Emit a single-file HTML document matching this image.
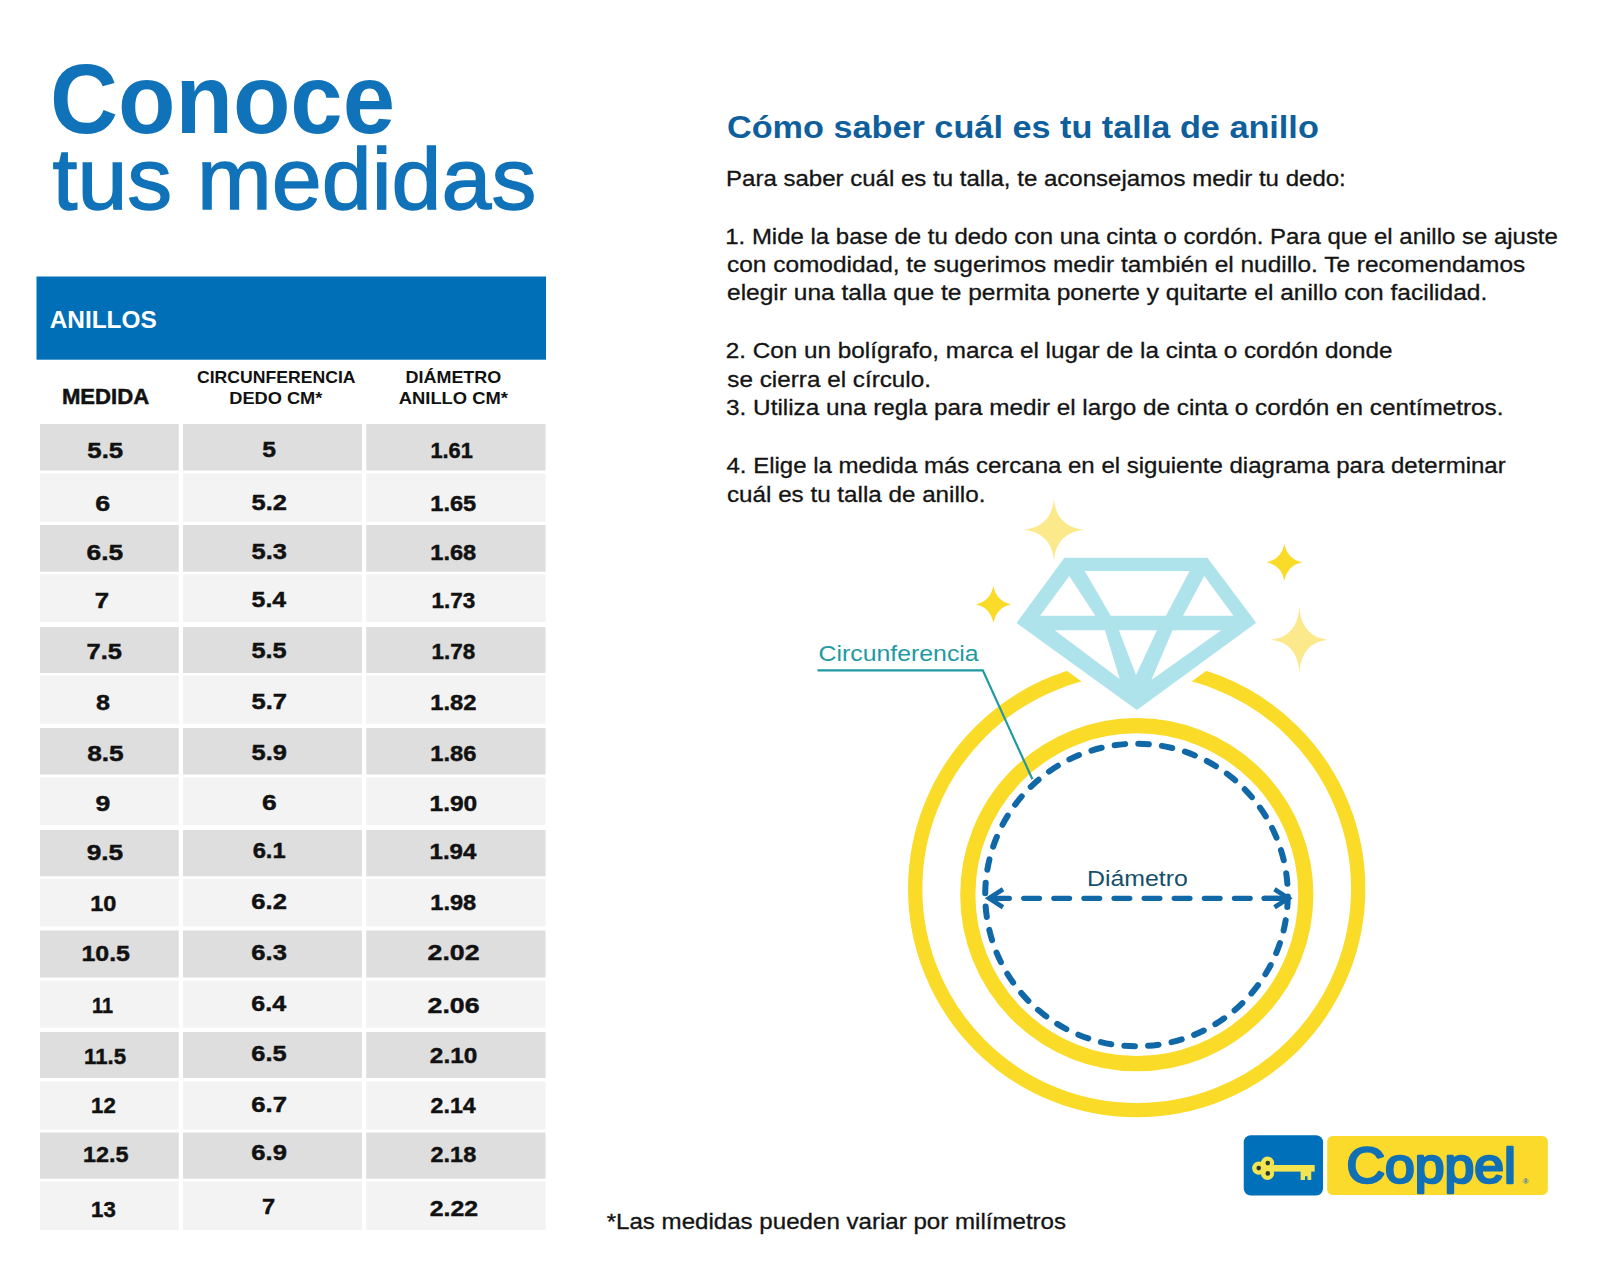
<!DOCTYPE html>
<html lang="es"><head><meta charset="utf-8"><title>Conoce tus medidas</title>
<style>
html,body{margin:0;padding:0;background:#fff}
body{width:1600px;height:1280px;overflow:hidden}
svg{display:block}
text{font-family:"Liberation Sans", sans-serif;white-space:pre}
</style></head><body>
<svg width="1600" height="1280" viewBox="0 0 1600 1280">
<rect width="1600" height="1280" fill="#ffffff"/>
<rect x="36.5" y="276.5" width="509.5" height="83.2" fill="#006fb7"/>
<rect x="40.00" y="424.00" width="138.75" height="46.50" fill="#dedede"/>
<rect x="183.00" y="424.00" width="179.00" height="46.50" fill="#dedede"/>
<rect x="366.25" y="424.00" width="179.25" height="46.50" fill="#dedede"/>
<rect x="40.00" y="473.40" width="138.75" height="48.35" fill="#f3f3f3"/>
<rect x="183.00" y="473.40" width="179.00" height="48.35" fill="#f3f3f3"/>
<rect x="366.25" y="473.40" width="179.25" height="48.35" fill="#f3f3f3"/>
<rect x="40.00" y="525.00" width="138.75" height="46.75" fill="#dedede"/>
<rect x="183.00" y="525.00" width="179.00" height="46.75" fill="#dedede"/>
<rect x="366.25" y="525.00" width="179.25" height="46.75" fill="#dedede"/>
<rect x="40.00" y="574.40" width="138.75" height="47.60" fill="#f3f3f3"/>
<rect x="183.00" y="574.40" width="179.00" height="47.60" fill="#f3f3f3"/>
<rect x="366.25" y="574.40" width="179.25" height="47.60" fill="#f3f3f3"/>
<rect x="40.00" y="627.00" width="138.75" height="46.00" fill="#dedede"/>
<rect x="183.00" y="627.00" width="179.00" height="46.00" fill="#dedede"/>
<rect x="366.25" y="627.00" width="179.25" height="46.00" fill="#dedede"/>
<rect x="40.00" y="675.40" width="138.75" height="48.35" fill="#f3f3f3"/>
<rect x="183.00" y="675.40" width="179.00" height="48.35" fill="#f3f3f3"/>
<rect x="366.25" y="675.40" width="179.25" height="48.35" fill="#f3f3f3"/>
<rect x="40.00" y="728.00" width="138.75" height="46.50" fill="#dedede"/>
<rect x="183.00" y="728.00" width="179.00" height="46.50" fill="#dedede"/>
<rect x="366.25" y="728.00" width="179.25" height="46.50" fill="#dedede"/>
<rect x="40.00" y="777.40" width="138.75" height="47.60" fill="#f3f3f3"/>
<rect x="183.00" y="777.40" width="179.00" height="47.60" fill="#f3f3f3"/>
<rect x="366.25" y="777.40" width="179.25" height="47.60" fill="#f3f3f3"/>
<rect x="40.00" y="830.00" width="138.75" height="46.25" fill="#dedede"/>
<rect x="183.00" y="830.00" width="179.00" height="46.25" fill="#dedede"/>
<rect x="366.25" y="830.00" width="179.25" height="46.25" fill="#dedede"/>
<rect x="40.00" y="878.90" width="138.75" height="47.35" fill="#f3f3f3"/>
<rect x="183.00" y="878.90" width="179.00" height="47.35" fill="#f3f3f3"/>
<rect x="366.25" y="878.90" width="179.25" height="47.35" fill="#f3f3f3"/>
<rect x="40.00" y="930.50" width="138.75" height="47.00" fill="#dedede"/>
<rect x="183.00" y="930.50" width="179.00" height="47.00" fill="#dedede"/>
<rect x="366.25" y="930.50" width="179.25" height="47.00" fill="#dedede"/>
<rect x="40.00" y="980.65" width="138.75" height="47.10" fill="#f3f3f3"/>
<rect x="183.00" y="980.65" width="179.00" height="47.10" fill="#f3f3f3"/>
<rect x="366.25" y="980.65" width="179.25" height="47.10" fill="#f3f3f3"/>
<rect x="40.00" y="1032.00" width="138.75" height="46.00" fill="#dedede"/>
<rect x="183.00" y="1032.00" width="179.00" height="46.00" fill="#dedede"/>
<rect x="366.25" y="1032.00" width="179.25" height="46.00" fill="#dedede"/>
<rect x="40.00" y="1081.40" width="138.75" height="48.10" fill="#f3f3f3"/>
<rect x="183.00" y="1081.40" width="179.00" height="48.10" fill="#f3f3f3"/>
<rect x="366.25" y="1081.40" width="179.25" height="48.10" fill="#f3f3f3"/>
<rect x="40.00" y="1132.50" width="138.75" height="46.25" fill="#dedede"/>
<rect x="183.00" y="1132.50" width="179.00" height="46.25" fill="#dedede"/>
<rect x="366.25" y="1132.50" width="179.25" height="46.25" fill="#dedede"/>
<rect x="40.00" y="1181.40" width="138.75" height="48.60" fill="#f3f3f3"/>
<rect x="183.00" y="1181.40" width="179.00" height="48.60" fill="#f3f3f3"/>
<rect x="366.25" y="1181.40" width="179.25" height="48.60" fill="#f3f3f3"/>
<circle cx="1136.7" cy="888.7" r="221.5" fill="none" stroke="#fadb28" stroke-width="14.3"/>
<path d="M1064.4 557.7L1207.4 557.7L1256.2 622.7L1136.9 709.9L1016.5 623Z" fill="#ffffff" stroke="#ffffff" stroke-width="18.6" stroke-linejoin="miter"/>
<circle cx="1136.8" cy="894.7" r="169" fill="none" stroke="#fadb28" stroke-width="15.2"/>
<circle cx="1136.5" cy="895" r="151.3" fill="none" stroke="#1068a6" stroke-width="6" stroke-dasharray="10.6 13.166" stroke-linecap="round" transform="rotate(0.56 1136.5 895)"/>
<path d="M989 898.3H996" stroke="#1068a6" stroke-width="5.2" fill="none"/>
<path d="M993.6 898.3H1287" stroke="#1068a6" stroke-width="5.2" stroke-dasharray="15.8 14.3" stroke-linecap="round" fill="none"/>
<path d="M1264 898.3H1288" stroke="#1068a6" stroke-width="5.2" stroke-linecap="round" fill="none"/>
<path d="M1003 889.3L989 898.3L1003 907.3" stroke="#1068a6" stroke-width="4.6" fill="none" stroke-linejoin="miter"/>
<path d="M1274.5 889.3L1288.5 898.3L1274.5 907.3" stroke="#1068a6" stroke-width="4.6" fill="none" stroke-linejoin="miter"/>
<path d="M817.5 670.4H982.8L1032.4 779.2" stroke="#1f9aa2" stroke-width="2.2" fill="none"/>
<path d="M1064.4 557.7L1207.4 557.7L1256.2 622.7L1136.9 709.9L1016.5 623ZM1084.75 571L1189.6 571L1166 615.7L1110.75 615.7ZM1069.3 575.9L1095.3 615.7L1040 615.7ZM1204.2 575.9L1233.4 615.7L1183 615.7ZM1054.7 630.3L1105 630.3L1119.7 679ZM1118.9 630.3L1157 630.3L1136 675ZM1172.5 630.3L1221.25 630.3L1151.4 679.9Z" fill="#aee3ec" fill-rule="evenodd"/>
<path d="M1053.90 499.30Q1056.64 527.05 1084.40 529.80Q1056.64 532.54 1053.90 560.30Q1051.16 532.54 1023.40 529.80Q1051.16 527.05 1053.90 499.30Z" fill="#fce98c"/>
<path d="M1299.40 607.80Q1301.95 636.92 1327.70 639.80Q1301.95 642.68 1299.40 671.80Q1296.85 642.68 1271.10 639.80Q1296.85 636.92 1299.40 607.80Z" fill="#fce98c"/>
<path d="M993.40 585.80Q996.38 601.24 1010.90 604.40Q996.38 607.56 993.40 623.00Q990.42 607.56 975.90 604.40Q990.42 601.24 993.40 585.80Z" fill="#fadb28"/>
<path d="M1284.40 544.00Q1287.44 559.11 1302.30 562.20Q1287.44 565.29 1284.40 580.40Q1281.36 565.29 1266.50 562.20Q1281.36 559.11 1284.40 544.00Z" fill="#fadb28"/>
<rect x="1243.75" y="1135.3" width="79.3" height="60.3" rx="7" fill="#0070ba"/>
<rect x="1327.2" y="1135.9" width="220.6" height="59" rx="5.5" fill="#fbda2c"/>
<g fill="#f3e552"><circle cx="1258.75" cy="1168.1" r="6.6"/><circle cx="1267.5" cy="1163.1" r="6.6"/><circle cx="1267.5" cy="1173.4" r="6.6"/><circle cx="1264.6" cy="1168.2" r="5.5"/><rect x="1270" y="1165" width="44.7" height="6.6"/><path d="M1300.6 1170H1311.25V1180H1307.5V1176.25H1305V1180H1300.6Z"/></g>
<g fill="#2b3a2e"><circle cx="1258.75" cy="1168.1" r="2.3"/><circle cx="1267.8" cy="1163.1" r="2.3"/><circle cx="1267.8" cy="1173.4" r="2.3"/></g>
<text transform="translate(50.06 132.70) scale(0.9600 1)" font-size="98" font-weight="bold" fill="#1072b9" >Conoce</text>
<text transform="translate(52.50 208.60) scale(1.0197 1)" font-size="88" font-weight="normal" fill="#1072b9" stroke="#1072b9" stroke-width="1.4">tus medidas</text>
<text transform="translate(726.93 138.20) scale(1.1053 1)" font-size="31" font-weight="bold" fill="#0f5f9d" >Cómo saber cuál es tu talla de anillo</text>
<text transform="translate(726.03 185.50) scale(1.0928 1)" font-size="22" font-weight="normal" fill="#141414" stroke="#141414" stroke-width="0.3">Para saber cuál es tu talla, te aconsejamos medir tu dedo:</text>
<text transform="translate(725.26 243.50) scale(1.0894 1)" font-size="22" font-weight="normal" fill="#141414" stroke="#141414" stroke-width="0.3">1. Mide la base de tu dedo con una cinta o cordón. Para que el anillo se ajuste</text>
<text transform="translate(727.00 271.80) scale(1.1109 1)" font-size="22" font-weight="normal" fill="#141414" stroke="#141414" stroke-width="0.3">con comodidad, te sugerimos medir también el nudillo. Te recomendamos</text>
<text transform="translate(727.00 300.40) scale(1.1148 1)" font-size="22" font-weight="normal" fill="#141414" stroke="#141414" stroke-width="0.3">elegir una talla que te permita ponerte y quitarte el anillo con facilidad.</text>
<text transform="translate(725.79 357.80) scale(1.1044 1)" font-size="22" font-weight="normal" fill="#141414" stroke="#141414" stroke-width="0.3">2. Con un bolígrafo, marca el lugar de la cinta o cordón donde</text>
<text transform="translate(727.34 386.60) scale(1.1038 1)" font-size="22" font-weight="normal" fill="#141414" stroke="#141414" stroke-width="0.3">se cierra el círculo.</text>
<text transform="translate(726.12 415.30) scale(1.1045 1)" font-size="22" font-weight="normal" fill="#141414" stroke="#141414" stroke-width="0.3">3. Utiliza una regla para medir el largo de cinta o cordón en centímetros.</text>
<text transform="translate(726.45 473.30) scale(1.0920 1)" font-size="22" font-weight="normal" fill="#141414" stroke="#141414" stroke-width="0.3">4. Elige la medida más cercana en el siguiente diagrama para determinar</text>
<text transform="translate(727.01 502.00) scale(1.1009 1)" font-size="22" font-weight="normal" fill="#141414" stroke="#141414" stroke-width="0.3">cuál es tu talla de anillo.</text>
<text transform="translate(606.66 1228.75) scale(1.1217 1)" font-size="21.5" font-weight="normal" fill="#141414" stroke="#141414" stroke-width="0.3">*Las medidas pueden variar por milímetros</text>
<text transform="translate(49.69 327.60) scale(1.0162 1)" font-size="24" font-weight="bold" fill="#ffffff" >ANILLOS</text>
<text transform="translate(61.89 404.20) scale(1.0060 1)" font-size="22" font-weight="bold" fill="#111111" stroke="#111111" stroke-width="0.5">MEDIDA</text>
<text transform="translate(196.99 383.00) scale(1.0187 1)" font-size="17.3" font-weight="bold" fill="#111111" >CIRCUNFERENCIA</text>
<text transform="translate(229.24 404.40) scale(1.0539 1)" font-size="17.3" font-weight="bold" fill="#111111" >DEDO CM*</text>
<text transform="translate(405.56 383.00) scale(1.0375 1)" font-size="17.3" font-weight="bold" fill="#111111" >DIÁMETRO</text>
<text transform="translate(398.78 404.40) scale(1.0625 1)" font-size="17.3" font-weight="bold" fill="#111111" >ANILLO CM*</text>
<text transform="translate(87.31 457.50) scale(1.1475 1)" font-size="22.5" font-weight="bold" fill="#111111" stroke="#111111" stroke-width="0.45">5.5</text>
<text transform="translate(95.30 510.50) scale(1.1927 1)" font-size="22.5" font-weight="bold" fill="#111111" stroke="#111111" stroke-width="0.45">6</text>
<text transform="translate(86.56 560.00) scale(1.1720 1)" font-size="22.5" font-weight="bold" fill="#111111" stroke="#111111" stroke-width="0.45">6.5</text>
<text transform="translate(94.72 607.50) scale(1.1449 1)" font-size="22.5" font-weight="bold" fill="#111111" stroke="#111111" stroke-width="0.45">7</text>
<text transform="translate(86.48 658.75) scale(1.1339 1)" font-size="22.5" font-weight="bold" fill="#111111" stroke="#111111" stroke-width="0.45">7.5</text>
<text transform="translate(95.97 709.50) scale(1.1161 1)" font-size="22.5" font-weight="bold" fill="#111111" stroke="#111111" stroke-width="0.45">8</text>
<text transform="translate(87.18 761.25) scale(1.1680 1)" font-size="22.5" font-weight="bold" fill="#111111" stroke="#111111" stroke-width="0.45">8.5</text>
<text transform="translate(95.42 811.25) scale(1.1818 1)" font-size="22.5" font-weight="bold" fill="#111111" stroke="#111111" stroke-width="0.45">9</text>
<text transform="translate(86.68 859.50) scale(1.1680 1)" font-size="22.5" font-weight="bold" fill="#111111" stroke="#111111" stroke-width="0.45">9.5</text>
<text transform="translate(90.29 910.50) scale(1.0456 1)" font-size="22.5" font-weight="bold" fill="#111111" stroke="#111111" stroke-width="0.45">10</text>
<text transform="translate(81.45 960.75) scale(1.1070 1)" font-size="22.5" font-weight="bold" fill="#111111" stroke="#111111" stroke-width="0.45">10.5</text>
<text transform="translate(92.01 1012.50) scale(0.8842 1)" font-size="22.5" font-weight="bold" fill="#111111" stroke="#111111" stroke-width="0.45">11</text>
<text transform="translate(84.12 1063.75) scale(0.9868 1)" font-size="22.5" font-weight="bold" fill="#111111" stroke="#111111" stroke-width="0.45">11.5</text>
<text transform="translate(91.12 1113.00) scale(0.9863 1)" font-size="22.5" font-weight="bold" fill="#111111" stroke="#111111" stroke-width="0.45">12</text>
<text transform="translate(83.04 1162.00) scale(1.0412 1)" font-size="22.5" font-weight="bold" fill="#111111" stroke="#111111" stroke-width="0.45">12.5</text>
<text transform="translate(91.12 1216.75) scale(0.9863 1)" font-size="22.5" font-weight="bold" fill="#111111" stroke="#111111" stroke-width="0.45">13</text>
<text transform="translate(262.34 456.80) scale(1.0973 1)" font-size="22.5" font-weight="bold" fill="#111111" stroke="#111111" stroke-width="0.45">5</text>
<text transform="translate(251.52 510.10) scale(1.1318 1)" font-size="22.5" font-weight="bold" fill="#111111" stroke="#111111" stroke-width="0.45">5.2</text>
<text transform="translate(251.52 558.50) scale(1.1318 1)" font-size="22.5" font-weight="bold" fill="#111111" stroke="#111111" stroke-width="0.45">5.3</text>
<text transform="translate(251.54 606.90) scale(1.1059 1)" font-size="22.5" font-weight="bold" fill="#111111" stroke="#111111" stroke-width="0.45">5.4</text>
<text transform="translate(251.53 657.50) scale(1.1242 1)" font-size="22.5" font-weight="bold" fill="#111111" stroke="#111111" stroke-width="0.45">5.5</text>
<text transform="translate(251.52 708.70) scale(1.1356 1)" font-size="22.5" font-weight="bold" fill="#111111" stroke="#111111" stroke-width="0.45">5.7</text>
<text transform="translate(251.52 759.60) scale(1.1318 1)" font-size="22.5" font-weight="bold" fill="#111111" stroke="#111111" stroke-width="0.45">5.9</text>
<text transform="translate(262.06 809.50) scale(1.1743 1)" font-size="22.5" font-weight="bold" fill="#111111" stroke="#111111" stroke-width="0.45">6</text>
<text transform="translate(252.66 857.90) scale(1.0548 1)" font-size="22.5" font-weight="bold" fill="#111111" stroke="#111111" stroke-width="0.45">6.1</text>
<text transform="translate(251.29 909.00) scale(1.1394 1)" font-size="22.5" font-weight="bold" fill="#111111" stroke="#111111" stroke-width="0.45">6.2</text>
<text transform="translate(251.29 959.50) scale(1.1394 1)" font-size="22.5" font-weight="bold" fill="#111111" stroke="#111111" stroke-width="0.45">6.3</text>
<text transform="translate(251.31 1011.20) scale(1.1131 1)" font-size="22.5" font-weight="bold" fill="#111111" stroke="#111111" stroke-width="0.45">6.4</text>
<text transform="translate(251.29 1061.40) scale(1.1318 1)" font-size="22.5" font-weight="bold" fill="#111111" stroke="#111111" stroke-width="0.45">6.5</text>
<text transform="translate(251.29 1111.60) scale(1.1433 1)" font-size="22.5" font-weight="bold" fill="#111111" stroke="#111111" stroke-width="0.45">6.7</text>
<text transform="translate(251.29 1160.40) scale(1.1394 1)" font-size="22.5" font-weight="bold" fill="#111111" stroke="#111111" stroke-width="0.45">6.9</text>
<text transform="translate(262.05 1214.40) scale(1.0514 1)" font-size="22.5" font-weight="bold" fill="#111111" stroke="#111111" stroke-width="0.45">7</text>
<text transform="translate(430.39 458.40) scale(0.9694 1)" font-size="22.5" font-weight="bold" fill="#111111" stroke="#111111" stroke-width="0.45">1.61</text>
<text transform="translate(430.28 510.80) scale(1.0496 1)" font-size="22.5" font-weight="bold" fill="#111111" stroke="#111111" stroke-width="0.45">1.65</text>
<text transform="translate(430.28 559.60) scale(1.0496 1)" font-size="22.5" font-weight="bold" fill="#111111" stroke="#111111" stroke-width="0.45">1.68</text>
<text transform="translate(431.50 608.00) scale(1.0005 1)" font-size="22.5" font-weight="bold" fill="#111111" stroke="#111111" stroke-width="0.45">1.73</text>
<text transform="translate(431.51 658.60) scale(0.9957 1)" font-size="22.5" font-weight="bold" fill="#111111" stroke="#111111" stroke-width="0.45">1.78</text>
<text transform="translate(430.27 710.00) scale(1.0546 1)" font-size="22.5" font-weight="bold" fill="#111111" stroke="#111111" stroke-width="0.45">1.82</text>
<text transform="translate(430.27 760.70) scale(1.0546 1)" font-size="22.5" font-weight="bold" fill="#111111" stroke="#111111" stroke-width="0.45">1.86</text>
<text transform="translate(429.47 811.30) scale(1.0921 1)" font-size="22.5" font-weight="bold" fill="#111111" stroke="#111111" stroke-width="0.45">1.90</text>
<text transform="translate(429.50 859.00) scale(1.0715 1)" font-size="22.5" font-weight="bold" fill="#111111" stroke="#111111" stroke-width="0.45">1.94</text>
<text transform="translate(430.28 910.30) scale(1.0496 1)" font-size="22.5" font-weight="bold" fill="#111111" stroke="#111111" stroke-width="0.45">1.98</text>
<text transform="translate(427.57 960.10) scale(1.1874 1)" font-size="22.5" font-weight="bold" fill="#111111" stroke="#111111" stroke-width="0.45">2.02</text>
<text transform="translate(427.57 1012.50) scale(1.1874 1)" font-size="22.5" font-weight="bold" fill="#111111" stroke="#111111" stroke-width="0.45">2.06</text>
<text transform="translate(429.84 1063.00) scale(1.0835 1)" font-size="22.5" font-weight="bold" fill="#111111" stroke="#111111" stroke-width="0.45">2.10</text>
<text transform="translate(430.58 1113.10) scale(1.0308 1)" font-size="22.5" font-weight="bold" fill="#111111" stroke="#111111" stroke-width="0.45">2.14</text>
<text transform="translate(430.57 1161.50) scale(1.0429 1)" font-size="22.5" font-weight="bold" fill="#111111" stroke="#111111" stroke-width="0.45">2.18</text>
<text transform="translate(429.83 1216.00) scale(1.1022 1)" font-size="22.5" font-weight="bold" fill="#111111" stroke="#111111" stroke-width="0.45">2.22</text>
<text transform="translate(818.59 660.60) scale(1.0986 1)" font-size="22.6" font-weight="normal" fill="#1f9aa2" >Circunferencia</text>
<text transform="translate(1087.00 886.20) scale(1.1110 1)" font-size="22.4" font-weight="normal" fill="#15506a" >Diámetro</text>
<text transform="translate(1346.39 1183.10) scale(1.0814 1)" font-size="49.5" font-weight="normal" fill="#1170b5" stroke="#1170b5" stroke-width="2.5" stroke-linejoin="round">Coppel</text>
<text transform="translate(1522.89 1184.30) scale(1.1304 1)" font-size="6.5" font-weight="bold" fill="#1170b5" >®</text>
</svg>
</body></html>
